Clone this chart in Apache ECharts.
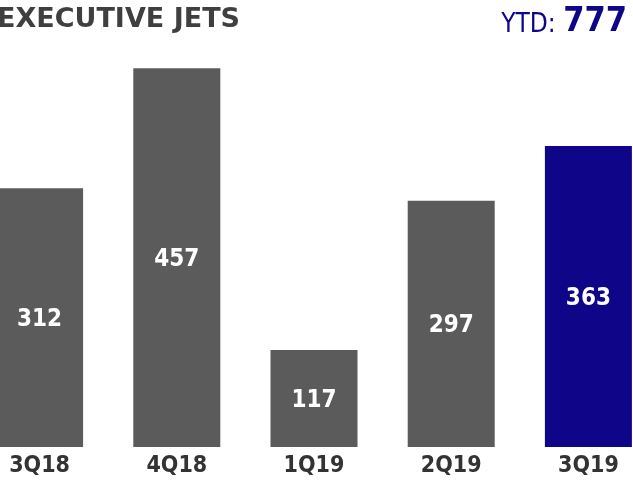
<!DOCTYPE html>
<html><head><meta charset="utf-8">
<script src="https://cdn.jsdelivr.net/npm/echarts@6/dist/echarts.min.js"></script>
<style>html,body{margin:0;padding:0;background:#fff;overflow:hidden;}#c{width:686px;height:486px;margin-left:-29px;}</style>
</head><body><div id="c"></div>
<script>
const categories = ['3Q18', '4Q18', '1Q19', '2Q19', '3Q19'];
const values = [312, 457, 117, 297, 363];
const barColors = ['#5b5b5b', '#5b5b5b', '#5b5b5b', '#5b5b5b', '#0f0589'];
const titleText = 'EXECUTIVE JETS';
const ytdLabel = 'YTD: ';
const ytdValue = '777';

const FONT = '"DejaVu Sans Condensed", "DejaVu Sans", sans-serif';
const TFONT = '"DejaVu Sans", sans-serif';
const chart = echarts.init(document.getElementById('c'), null, {renderer: 'canvas'});
chart.setOption({
  animation: false,
  title: [
    {text: titleText, left: 26, top: 6, padding: 0,
     textStyle: {fontFamily: TFONT, fontWeight: 'bold', fontSize: 27, color: '#3f3f3f'}},
    {text: '{a|' + ytdLabel + '}{b|' + ytdValue + '}', right: 30, top: 5, padding: 0,
     textStyle: {fontWeight: 'normal', rich: {
       a: {fontFamily: FONT, fontWeight: 'normal', fontSize: 26, color: '#0f0589', verticalAlign: 'bottom', padding: [0,0,1,0]},
       b: {fontFamily: FONT, fontWeight: 'bold', fontSize: 34, color: '#0f0589', verticalAlign: 'bottom'}
     }}}
  ],
  grid: {left: 0, right: 0, top: 32.5, height: 414.5, containLabel: false},
  xAxis: {type: 'category', data: categories,
    axisLine: {show: false}, axisTick: {show: false},
    axisLabel: {margin: 8, fontFamily: FONT, fontWeight: 'bold', fontSize: 23, color: '#333333'}},
  yAxis: {type: 'value', min: 0, max: 500, show: false, splitLine: {show: false}},
  series: [{
    type: 'bar', barWidth: 87,
    data: values.map((v, i) => ({value: v, itemStyle: {color: barColors[i]}})),
    label: {show: true, position: 'inside', offset: [0, 2], fontFamily: FONT, fontWeight: 'bold', fontSize: 24, color: '#ffffff'}
  }]
});
</script></body></html>
